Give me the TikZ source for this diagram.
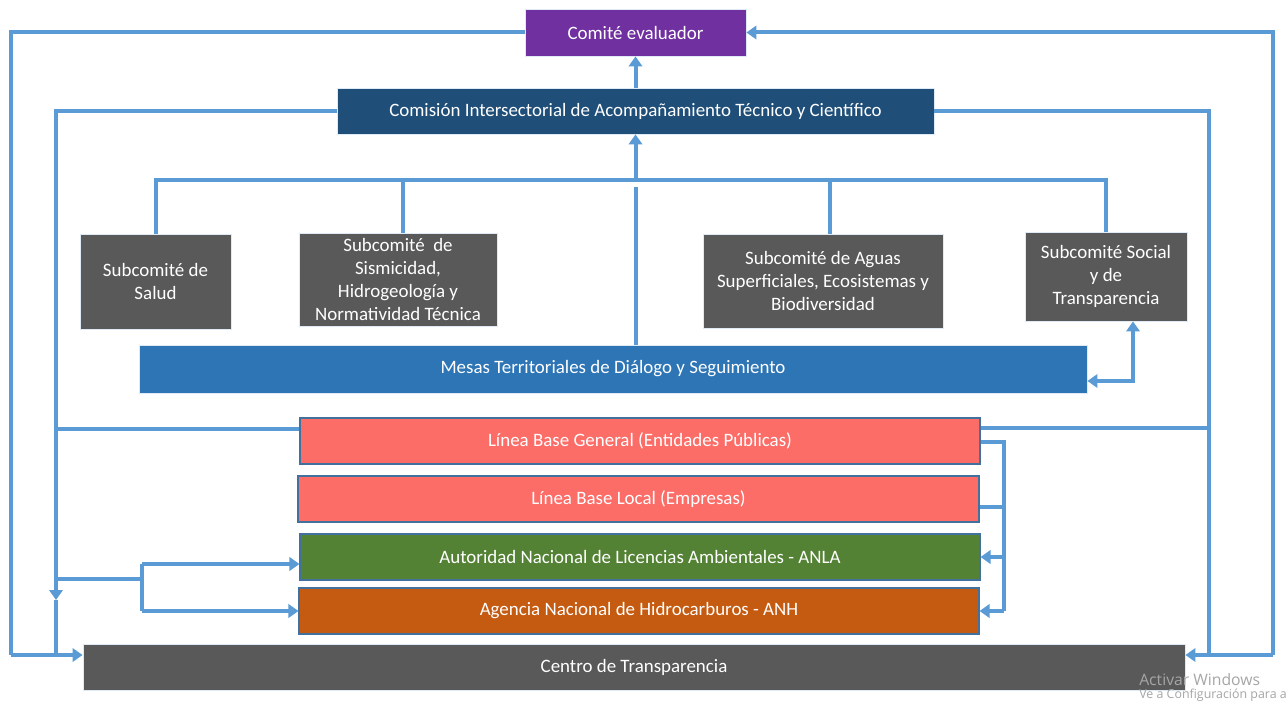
\documentclass[tikz,border=0pt]{standalone}
\usepackage{fontspec}
\setmainfont{Carlito}
\newfontfamily\wmfont{Open Sans}
\usetikzlibrary{arrows.meta}
\definecolor{conn}{HTML}{5B9BD5}
\definecolor{cpurple}{HTML}{7030A0}
\definecolor{cnavy}{HTML}{1F4E79}
\definecolor{cgray}{HTML}{595959}
\definecolor{cblue}{HTML}{2E75B6}
\definecolor{csalmon}{HTML}{FC6D68}
\definecolor{cgreen}{HTML}{548235}
\definecolor{corange}{HTML}{C55A11}
\definecolor{cedge}{HTML}{41719C}
\tikzset{
  box/.style={inner sep=0pt, text=white, align=center, font=\fontsize{14.2}{17.3}\selectfont, draw=white!80!conn, line width=0.6pt},
  cbox/.style={box, draw=cedge, line width=0.8pt},
  sz/.style 2 args={minimum width=#1*0.75pt, minimum height=#2*0.75pt},
  wire/.style={draw=conn, line width=3pt},
  arr/.style={wire, -{Triangle[width=10pt,length=7.5pt]}},
  arrb/.style={wire, {Triangle[width=10pt,length=7.5pt]}-{Triangle[width=10pt,length=7.5pt]}},
}
\begin{document}
\begin{tikzpicture}[x=0.75pt,y=-0.75pt]
\useasboundingbox (0,0) rectangle (1286,702);
\fill[white] (0,0) rectangle (1286,702);

% boxes
\node[box, fill=cpurple, sz={221}{47}] (comite) at (635.5,32.5) {Comité evaluador};
\node[box, fill=cnavy, sz={597}{46}] (comision) at (635.5,111) {Comisión Intersectorial de Acompañamiento Técnico y Científico};
\node[box, fill=cgray, sz={151}{95}] (salud) at (155.5,281.5) {Subcomité de\\Salud};
\node[box, fill=cgray, sz={198}{93}] (sism) at (398,279.5) {Subcomité~ de\\Sismicidad,\\Hidrogeología y\\Normatividad Técnica};
\node[box, fill=cgray, sz={240}{94}] (aguas) at (823,281) {Subcomité de Aguas\\Superficiales, Ecosistemas y\\Biodiversidad};
\node[box, fill=cgray, sz={162}{89}] (social) at (1106,276.5) {Subcomité Social\\y de\\Transparencia};
\node[box, fill=cblue, sz={948}{48}] (mesas) at (613,369) {Mesas Territoriales de Diálogo y Seguimiento};
\node[cbox, fill=csalmon, sz={680}{46}] (lbg) at (640,441) {Línea Base General (Entidades Públicas)};
\node[cbox, fill=csalmon, sz={681}{46}] (lbl) at (638.5,499) {Línea Base Local (Empresas)};
\node[cbox, fill=cgreen, sz={680}{46}] (anla) at (640,557) {Autoridad Nacional de Licencias Ambientales - ANLA};
\node[cbox, fill=corange, sz={680}{46}] (anh) at (639,611) {Agencia Nacional de Hidrocarburos - ANH};
\node[box, fill=cgray, sz={1102}{46}] (centro) at (634,667) {Centro de Transparencia};

% coordinates
\coordinate (bus) at (0,180);
\coordinate (OL) at (11,655);
\coordinate (OR) at (1273,655);
\coordinate (LL) at (56,655);
\coordinate (LLa) at (56,600);
\coordinate (LLg) at (56,429);
\coordinate (br) at (56,579);
\coordinate (bm) at (142,579);
\coordinate (bmA) at (142,564);
\coordinate (bmB) at (142,611);
\coordinate (RR) at (1209,655);
\coordinate (RRg) at (1209,428);
\coordinate (r1) at (1004,442);
\coordinate (r2) at (1004,611);
\coordinate (rA) at (1004,557);
\coordinate (rL) at (1004,507);
\coordinate (sm) at (1133,381);
\coordinate (mtop) at (635.5,187);

% outer loop
\draw[wire] (comite.west) -| (OL);
\draw[arr] (OL) -- (centro.west |- OL);
\draw[arr] (OR) |- (comite.east);
\draw[arr] (OR) -- (centro.east |- OR);

% comision to comite
\draw[arr] (comision.north) -- (comite.south);

% comision side lines
\draw[arr] (comision.west) -| (LLa);
\draw[wire] (LLa) -- (LL);
\draw[wire] (comision.east) -| (RR);
\draw[wire] (lbg.west |- LLg) -- (LLg);
\draw[wire] (lbg.east |- RRg) -- (RRg);

% left branch to ANLA / ANH
\draw[wire] (br) -- (bm);
\draw[wire] (bmA) -- (bmB);
\draw[arr] (bmA) -- (anla.west |- bmA);
\draw[arr] (bmB) -- (anh.west |- bmB);

% right branch
\draw[wire] (lbg.east |- r1) -| (r2);
\draw[wire] (lbl.east |- rL) -- (rL);
\draw[arr] (rA) -- (anla.east |- rA);
\draw[arr] (r2) -- (anh.east |- r2);

% subcommittee bus
\draw[wire] (salud.north) |- (social.north |- bus) -- (social.north);
\draw[wire] (sism.north -| 403,0) -- (403,180);
\draw[wire] (aguas.north -| 830,0) -- (830,180);
\draw[arr] (comision.south |- bus) -- (comision.south);
\draw[wire] (mesas.north -| mtop) -- (mtop);

% mesas <-> social
\draw[arrb] (mesas.east |- sm) -| (social.south -| sm);

% watermark
\node[anchor=west, text=black!35, font=\wmfont\fontsize{11.8}{14}\selectfont, inner sep=0pt] (wm1) at (1139,680) {Activar Windows};
\node[anchor=west, text=black!35, font=\wmfont\fontsize{9.3}{10}\selectfont, inner sep=0pt] (wm2) at (1139,695) {Ve a Configuración para a};
\end{tikzpicture}
\end{document}
